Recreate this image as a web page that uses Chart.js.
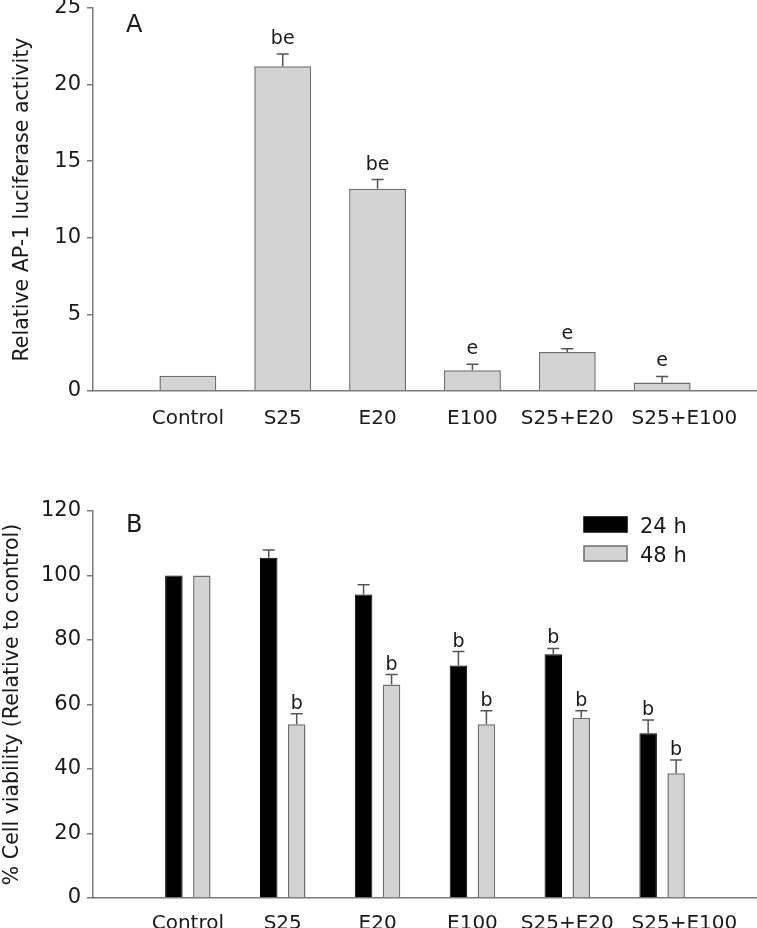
<!DOCTYPE html>
<html>
<head>
<meta charset="utf-8">
<script src="https://cdn.jsdelivr.net/npm/chart.js@4.4.1/dist/chart.umd.min.js"></script>
<style>
html, body { margin: 0; padding: 0; background: #fff; }
#wrap { position: relative; width: 757px; height: 928px; }
canvas { position: absolute; left: 0; }
</style>
</head>
<body>
<div id="wrap">
  <canvas id="chartA" width="757" height="440" style="top:0"></canvas>
  <canvas id="chartB" width="757" height="488" style="top:440px"></canvas>
</div>
<script>
// groups on the x axis (same for both panels)
const groups = ['Control', 'S25', 'E20', 'E100', 'S25+E20', 'S25+E100'];

// panel A : AP-1 luciferase
const lucValues = [1.0, 21.2, 13.2, 1.35, 2.55, 0.55];
const lucErrors = [0, 0.8, 0.6, 0.4, 0.2, 0.4];
const lucMarks = ['', 'be', 'be', 'e', 'e', 'e'];
const lucTicks = [0, 5, 10, 15, 20, 25];

// panel B : cell viability
const seriesNames = ['24 h', '48 h'];
const via24 = [100, 105.5, 94.1, 72.1, 75.6, 51.1];
const via24Err = [0, 2.4, 3.0, 4.3, 1.8, 4.1];
const via24Marks = ['', '', '', 'b', 'b', 'b'];
const via48 = [100, 53.9, 66.2, 53.9, 55.9, 38.7];
const via48Err = [0, 3.2, 3.1, 4.2, 2.2, 4.1];
const via48Marks = ['', 'b', 'b', 'b', 'b', 'b'];
const viaTicks = [0, 20, 40, 60, 80, 100, 120];

const FONT = '"DejaVu Sans", "Liberation Sans", sans-serif';
const txt = '#1a1a1a';
const axisColor = '#7a7a7a';
const greyFill = '#d3d3d3';
const greyLine = '#6e6e6e';

Chart.defaults.font.family = FONT;
Chart.defaults.color = txt;

// empty slot at each end, like the original axis
const pad = a => [null, ...a, null];
const xLabels = pad(groups).map(g => g || '');

// error bars + letters above them
const errBars = {
  id: 'errBars',
  afterDatasetsDraw(chart, args, opts) {
    const ctx = chart.ctx;
    const yScale = chart.scales.y;
    chart.data.datasets.forEach((ds, i) => {
      chart.getDatasetMeta(i).data.forEach((bar, j) => {
        const v = ds.data[j];
        if (v == null) return;
        const err = ds.errors[j] || 0;
        let top = bar.y;
        ctx.save();
        if (err > 0) {
          top = yScale.getPixelForValue(v + err);
          ctx.strokeStyle = '#555';
          ctx.lineWidth = 1.5;
          ctx.beginPath();
          ctx.moveTo(bar.x, bar.y);
          ctx.lineTo(bar.x, top);
          ctx.moveTo(bar.x - opts.cap / 2, top);
          ctx.lineTo(bar.x + opts.cap / 2, top);
          ctx.stroke();
        }
        const m = ds.marks[j];
        if (m) {
          ctx.fillStyle = txt;
          ctx.font = '19px ' + FONT;
          ctx.textAlign = 'center';
          ctx.textBaseline = 'alphabetic';
          ctx.fillText(m, bar.x, top - opts.gap);
        }
        ctx.restore();
      });
    });
  }
};

// panel letter and (optional) legend
const panelDeco = {
  id: 'panelDeco',
  afterDraw(chart, args, opts) {
    const ctx = chart.ctx;
    const area = chart.chartArea;
    ctx.save();
    ctx.fillStyle = txt;
    ctx.font = '24px ' + FONT;
    ctx.textAlign = 'left';
    ctx.textBaseline = 'alphabetic';
    ctx.fillText(opts.tag, area.left + 33, area.top + opts.tagY);
    if (opts.legend) {
      chart.data.datasets.forEach((ds, i) => {
        const bx = area.left + 491, by = area.top + 6 + i * 29;
        ctx.fillStyle = ds.backgroundColor;
        ctx.fillRect(bx, by, 43, 15);
        ctx.strokeStyle = ds.borderColor;
        ctx.lineWidth = 1.5;
        ctx.strokeRect(bx, by, 43, 15);
        ctx.fillStyle = txt;
        ctx.font = '21px ' + FONT;
        ctx.fillText(ds.label, bx + 56, by + 16);
      });
    }
    ctx.restore();
  }
};

function yAxis(ticks, title, titlePad) {
  return {
    min: ticks[0],
    max: ticks[ticks.length - 1],
    afterBuildTicks: s => { s.ticks = ticks.map(v => ({ value: v })); },
    grid: { drawOnChartArea: false, color: axisColor, tickLength: 6, lineWidth: 1.5 },
    border: { color: axisColor, width: 1.5 },
    ticks: { color: txt, font: { size: 21 }, padding: 6 },
    title: { display: true, text: title, color: txt, font: { size: 20.5 }, padding: { top: titlePad, bottom: 0 } },
    afterFit: s => { s.width = 93; s.paddingTop = 0; s.paddingBottom = 0; }
  };
}

function xAxis(height, labelPad) {
  return {
    offset: false,
    grid: { display: false },
    border: { color: axisColor, width: 1.5 },
    ticks: {
      color: txt, font: { size: 20 }, padding: labelPad, autoSkip: false, maxRotation: 0,
      // last label sits a little right of its bar in the original, to clear its neighbour
      callback: (v, i) => (i === groups.length ? '       ' : '') + xLabels[i]
    },
    afterFit: s => { s.height = height; s.paddingLeft = 0; s.paddingRight = 0; }
  };
}

new Chart(document.getElementById('chartA'), {
  type: 'bar',
  data: {
    labels: xLabels,
    datasets: [{
      label: 'AP-1',
      data: pad(lucValues),
      errors: pad(lucErrors),
      marks: pad(lucMarks),
      backgroundColor: greyFill,
      borderColor: greyLine,
      borderWidth: 1.5,
      barPercentage: 0.6,
      categoryPercentage: 1
    }]
  },
  options: {
    responsive: false,
    animation: false,
    layout: { padding: { top: 8, left: 0, right: 0, bottom: 0 } },
    plugins: {
      legend: { display: false },
      tooltip: { enabled: false },
      errBars: { cap: 12, gap: 10 },
      panelDeco: { tag: 'A', tagY: 24, legend: false }
    },
    scales: {
      x: xAxis(49, 8),
      y: yAxis(lucTicks, 'Relative AP-1 luciferase activity', 10)
    }
  },
  plugins: [errBars, panelDeco]
});

new Chart(document.getElementById('chartB'), {
  type: 'bar',
  data: {
    labels: xLabels,
    datasets: [{
      label: seriesNames[0],
      data: pad(via24),
      errors: pad(via24Err),
      marks: pad(via24Marks),
      backgroundColor: '#000000',
      borderColor: '#000000',
      borderWidth: 1,
      barPercentage: 0.625,
      categoryPercentage: 0.59
    }, {
      label: seriesNames[1],
      data: pad(via48),
      errors: pad(via48Err),
      marks: pad(via48Marks),
      backgroundColor: greyFill,
      borderColor: greyLine,
      borderWidth: 1.5,
      barPercentage: 0.625,
      categoryPercentage: 0.59
    }]
  },
  options: {
    responsive: false,
    animation: false,
    layout: { padding: { top: 71, left: 0, right: 0, bottom: 0 } },
    plugins: {
      legend: { display: false },
      tooltip: { enabled: false },
      errBars: { cap: 12, gap: 5 },
      panelDeco: { tag: 'B', tagY: 21, legend: true }
    },
    scales: {
      x: xAxis(30, 6),
      y: yAxis(viaTicks, '% Cell viability (Relative to control)', 0)
    }
  },
  plugins: [errBars, panelDeco]
});
</script>
</body>
</html>
